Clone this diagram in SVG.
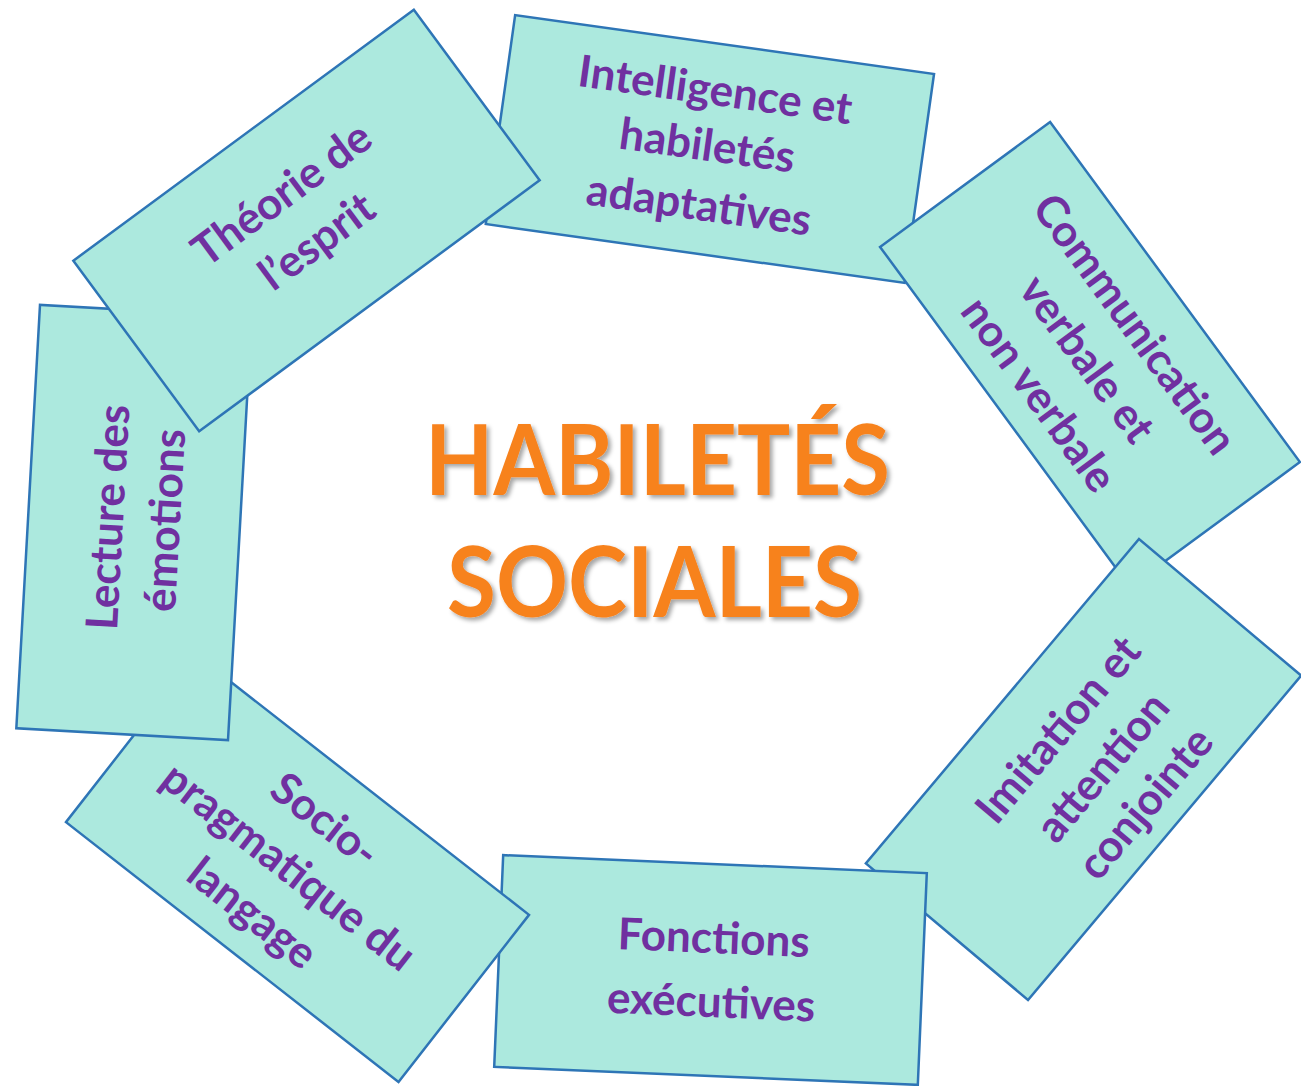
<svg xmlns="http://www.w3.org/2000/svg" width="1301" height="1086" viewBox="0 0 1301 1086">
<defs>
<style>
.box{fill:#ACE9DE;stroke:#2E75B6;stroke-width:2.5}
.lbl{font-family:Lato,"Liberation Sans",sans-serif;font-weight:bold;font-size:44px;fill:#7030A0;text-anchor:middle}
.title{font-family:Lato,"Liberation Sans",sans-serif;font-weight:bold;font-size:97px;fill:#F7821F;text-anchor:middle}
</style>
<filter id="sh" x="-10%" y="-10%" width="120%" height="130%">
<feDropShadow dx="3" dy="3" stdDeviation="2" flood-color="#000" flood-opacity="0.35"/>
</filter>
</defs>
<rect width="1301" height="1086" fill="#fff"/>
<g id="connectors"></g>
<g id="intelligence" transform="translate(709.9,149) rotate(8)">
<rect class="box" x="-211.5" y="-105.5" width="423" height="211"/>
<text class="lbl" x="-3" y="-44">Intelligence et</text>
<text class="lbl" x="-3" y="12">habiletés</text>
<text class="lbl" x="-3" y="72">adaptatives</text>
</g>
<g id="communication" transform="translate(1090,354.5) rotate(53.7)">
<rect class="box" x="-211" y="-105.5" width="422" height="211"/>
<text class="lbl" x="2" y="-39">Communication</text>
<text class="lbl" x="2" y="20">verbale et</text>
<text class="lbl" x="2" y="80">non verbale</text>
</g>
<g id="imitation" transform="translate(1083.5,769.5) rotate(-49.9)">
<rect class="box" x="-212" y="-106" width="424" height="212"/>
<text class="lbl" x="14" y="-30">Imitation et</text>
<text class="lbl" x="14" y="28">attention</text>
<text class="lbl" x="14" y="84">conjointe</text>
</g>
<g id="fonctions" transform="translate(710.5,970) rotate(2.43)">
<rect class="box" x="-212" y="-106" width="424" height="212"/>
<text class="lbl" x="2" y="-17">Fonctions</text>
<text class="lbl" x="2" y="47">exécutives</text>
</g>
<g id="socio" transform="translate(297.5,868.5) rotate(38)">
<rect class="box" x="-211" y="-106" width="422" height="212"/>
<text class="lbl" x="-8" y="-40">Socio-</text>
<text class="lbl" x="-8" y="19">pragmatique du</text>
<text class="lbl" x="-8" y="78">langage</text>
</g>
<g id="lecture" transform="translate(134,522.5) rotate(-86.8)">
<rect class="box" x="-212" y="-106" width="424" height="212"/>
<text class="lbl" x="4" y="-11">Lecture des</text>
<text class="lbl" x="4" y="46">émotions</text>
</g>
<g id="theorie" transform="translate(306.5,220.5) rotate(-36.4)">
<rect class="box" x="-211.5" y="-106" width="423" height="212"/>
<text class="lbl" x="-4" y="-21">Théorie de</text>
<text class="lbl" x="-4" y="38">l’esprit</text>
</g>
<g id="title" filter="url(#sh)">
<text class="title" x="657.5" y="495" textLength="465" lengthAdjust="spacingAndGlyphs">HABILETÉS</text>
<text class="title" x="654.5" y="617" textLength="415" lengthAdjust="spacingAndGlyphs">SOCIALES</text>
</g>
</svg>
